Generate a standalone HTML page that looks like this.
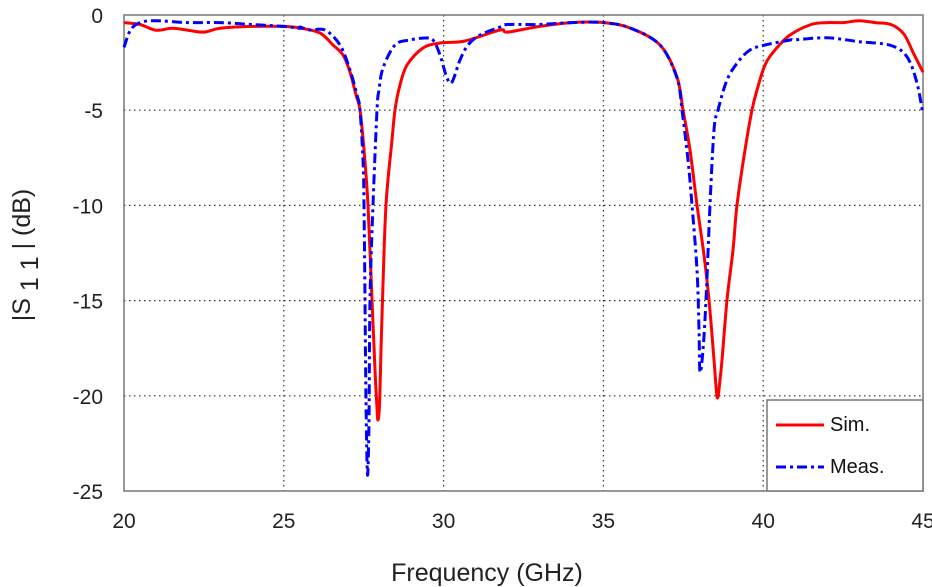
<!DOCTYPE html>
<html><head><meta charset="utf-8"><style>
body{margin:0;background:#fff}
svg{display:block;font-family:"Liberation Sans",Arial,sans-serif}
</style></head><body>
<svg id="s" width="932" height="587" viewBox="0 0 932 587" xmlns="http://www.w3.org/2000/svg">
<rect x="0" y="0" width="932" height="587" fill="#fff"/>
<g id="grid" stroke="#333" stroke-width="1.2" stroke-dasharray="1.5,3.5"></g>
<rect x="124" y="15" width="799" height="476" fill="none" stroke="#777" stroke-width="1.5"/>
<g id="ticks" font-size="21" fill="#222"></g>
<path id="sim" fill="none" stroke="#ff0000" stroke-width="3" stroke-linejoin="round"/>
<path id="meas" fill="none" stroke="#0000ff" stroke-width="3" stroke-dasharray="10,4,3,4" stroke-linejoin="round"/>
<rect x="767" y="400" width="156" height="91" fill="#fff" stroke="#777" stroke-width="1.5"/>
<line x1="776" y1="425" x2="824" y2="425" stroke="#ff0000" stroke-width="3"/>
<line x1="776" y1="467" x2="824" y2="467" stroke="#0000ff" stroke-width="3" stroke-dasharray="10,4,3,4"/>
<text x="830" y="431" font-size="20" fill="#111">Sim.</text>
<text x="830" y="473" font-size="20" fill="#111">Meas.</text>
<text x="487" y="581" font-size="25" fill="#222" text-anchor="middle">Frequency (GHz)</text>
<text transform="translate(30,255) rotate(-90)" font-size="25" fill="#222" text-anchor="middle">|S<tspan dy="8" font-size="25"> 1 1 </tspan><tspan dy="-8">| (dB)</tspan></text>
</svg>
<script>
var X=f=>124+31.96*(f-20),Y=d=>15-19.04*d,ns="http://www.w3.org/2000/svg";
var g=document.getElementById('grid'),t=document.getElementById('ticks');
function el(p,n,a,txt){var e=document.createElementNS(ns,n);for(var k in a)e.setAttribute(k,a[k]);if(txt!=null)e.textContent=txt;p.appendChild(e);}
for(var f=25;f<45;f+=5)el(g,'line',{x1:X(f),y1:15,x2:X(f),y2:491});
for(var d=-5;d>-25;d-=5)el(g,'line',{x1:124,y1:Y(d),x2:923,y2:Y(d)});
for(var f=20;f<=45;f+=5)el(t,'text',{x:X(f),y:528,'text-anchor':'middle'},f);
for(var d=0;d>=-25;d-=5)el(t,'text',{x:103,y:Y(d)+8,'text-anchor':'end'},d);
var sim=[[20,-0.4],[20.5,-0.5],[21,-0.8],[21.5,-0.7],[22,-0.8],[22.5,-0.9],[23,-0.7],[24,-0.6],[25,-0.6],[26,-0.7],[26.5,-1.2],[27,-2],[32,-0.9],[33,-0.6],[34,-0.4],[35,-0.4],[36,-0.6],[41.5,-0.5],[42,-0.4],[42.5,-0.4],[43,-0.3],[43.5,-0.4],[44,-0.5],[44.4,-1],[44.7,-2],[45,-3]];
var meas=[[20,-1.7],[20.2,-0.8],[20.5,-0.4],[21,-0.3],[22,-0.4],[23,-0.4],[24,-0.5],[25,-0.6],[25.5,-0.7],[26,-0.6],[32,-0.5],[33,-0.5],[34,-0.4],[35,-0.4],[36,-0.6],[41,-1.3],[42,-1.2],[43,-1.4],[44,-1.6],[44.5,-2.2],[44.8,-3.5],[45,-5.2]];
var sd1=[[300,28],[320,33],[333,45],[343,55],[350,72],[356,95],[360,110],[364,150],[368,205],[372,300],[375,370],[377,408],[378,420],[379.5,405],[381,350],[382.5,300],[386,205],[392,140],[395,110],[400,85],[407,65],[423,48],[440,43],[465,41],[500,30]];
var sd2=[[630,28],[660,45],[677,77],[683,110],[690,150],[697,205],[704,255],[709,300],[714,360],[716.5,392],[718,397],[720,380],[722,360],[727,300],[733,250],[737,205],[745,150],[752,110],[757,90],[765,65],[775,50],[790,35]];
var md1=[[300,27],[310,30],[325,30],[340,45],[350,70],[357,95],[360,110],[363,160],[364,205],[365,300],[366,400],[367.5,475],[369,420],[370,300],[373,205],[377,110],[379,90],[383,68],[395,45],[410,40],[425,38],[433,40],[440,55],[447,78],[452,82],[460,60],[468,45],[480,35],[500,27]];
var md2=[[630,28],[660,45],[677,78],[682,110],[688,160],[692,205],[697,270],[699,330],[700,372],[703,350],[706,300],[710,205],[714,130],[718,110],[727,80],[738,62],[750,50],[765,45],[790,40]];
function build(data,d1,d2){var px=data.map(p=>[X(p[0]),Y(p[1])]);
return px.filter(p=>p[0]<300).concat(d1,px.filter(p=>p[0]>500&&p[0]<630),d2,px.filter(p=>p[0]>790));}
function path(p){var s='M'+p[0][0]+','+p[0][1];
for(var i=0;i<p.length-1;i++){var p0=p[i-1]||p[i],p1=p[i],p2=p[i+1],p3=p[i+2]||p2,k=6;
s+=' C'+(p1[0]+(p2[0]-p0[0])/k).toFixed(1)+','+(p1[1]+(p2[1]-p0[1])/k).toFixed(1)+' '+(p2[0]-(p3[0]-p1[0])/k).toFixed(1)+','+(p2[1]-(p3[1]-p1[1])/k).toFixed(1)+' '+p2[0].toFixed(1)+','+p2[1].toFixed(1);}
return s;}
document.getElementById('sim').setAttribute('d',path(build(sim,sd1,sd2)));
document.getElementById('meas').setAttribute('d',path(build(meas,md1,md2)));
</script>
</body></html>
